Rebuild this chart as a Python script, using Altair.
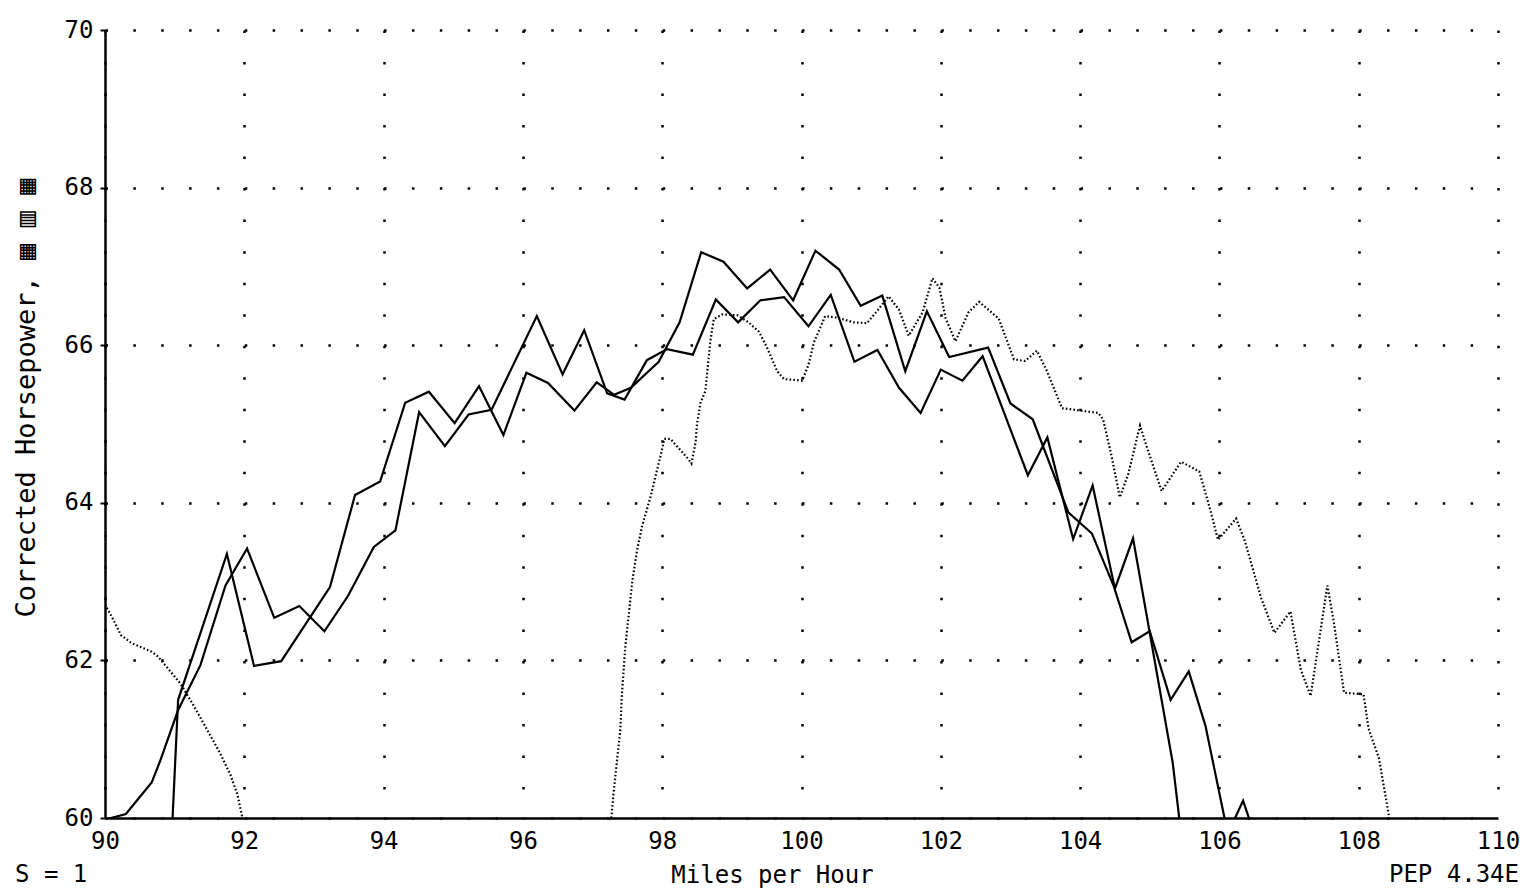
import altair as alt
import pandas as pd

# ---- data ----
run1_mph = [90.97, 91.05, 91.75, 92.14, 92.53, 93.23, 93.59, 93.95, 94.31, 94.65,
            95.02, 95.37, 95.72, 96.05, 96.36, 96.74, 97.06, 97.31, 97.55, 97.95,
            98.25, 98.56, 98.88, 99.22, 99.55, 99.88, 100.2, 100.54, 100.85, 101.16,
            101.49, 101.8, 102.12, 102.68, 103.0, 103.32, 103.83, 104.17, 104.48, 104.74,
            105.0, 105.3, 105.56, 105.8, 106.12, 106.34, 106.5]
run1_hp = [60.0, 61.5, 63.35, 61.93, 61.99, 62.93, 64.1, 64.27, 65.27, 65.41,
           65.01, 65.48, 64.86, 65.65, 65.52, 65.17, 65.53, 65.37, 65.46, 65.79,
           66.29, 67.18, 67.06, 66.72, 66.96, 66.57, 67.2, 66.96, 66.5, 66.63,
           65.67, 66.43, 65.85, 65.97, 65.26, 65.06, 63.88, 63.61, 62.95, 62.23,
           62.37, 61.5, 61.86, 61.17, 59.8, 60.22, 59.8]

run2_mph = [90.0, 90.3, 90.67, 90.79, 91.05, 91.37, 91.73, 92.04, 92.43, 92.79,
            93.15, 93.49, 93.86, 94.17, 94.51, 94.88, 95.22, 95.55, 96.2, 96.57,
            96.88, 97.21, 97.46, 97.78, 98.07, 98.44, 98.77, 99.09, 99.41, 99.75,
            100.1, 100.42, 100.76, 101.09, 101.4, 101.71, 102.0, 102.31, 102.6, 103.25,
            103.53, 103.9, 104.18, 104.5, 104.76, 105.33, 105.45]
run2_hp = [59.98, 60.05, 60.45, 60.72, 61.37, 61.94, 62.95, 63.42, 62.54, 62.69,
           62.37, 62.82, 63.44, 63.65, 65.15, 64.72, 65.12, 65.18, 66.37, 65.63,
           66.19, 65.39, 65.31, 65.81, 65.95, 65.88, 66.58, 66.29, 66.57, 66.61,
           66.24, 66.64, 65.79, 65.94, 65.46, 65.14, 65.69, 65.55, 65.86, 64.35,
           64.83, 63.54, 64.22, 62.91, 63.55, 60.7, 59.8]

dot_low_mph = [90.0, 90.1, 90.23, 90.38, 90.67, 90.76, 91.08, 91.27, 91.46, 91.66,
               91.8, 91.9, 91.97]
dot_low_hp = [62.71, 62.55, 62.32, 62.22, 62.11, 62.05, 61.71, 61.43, 61.13, 60.81,
              60.55, 60.3, 60.02]

dot_high_mph = [97.27, 97.3, 97.35, 97.4, 97.42, 97.47, 97.52, 97.57, 97.64, 97.71,
                97.84, 97.91, 97.98, 98.03, 98.12, 98.24, 98.38, 98.42, 98.48, 98.5,
                98.55, 98.62, 98.69, 98.74, 98.86, 99.08, 99.24, 99.39, 99.51, 99.65,
                99.75, 100.01, 100.1, 100.18, 100.34, 100.51, 100.75, 100.94, 101.1, 101.25,
                101.4, 101.54, 101.74, 101.88, 101.98, 102.07, 102.21, 102.4, 102.55, 102.83,
                103.05, 103.21, 103.38, 103.52, 103.74, 103.93, 104.26, 104.33, 104.45, 104.57,
                104.69, 104.86, 104.95, 105.17, 105.45, 105.71, 105.86, 105.98, 106.24, 106.36,
                106.6, 106.79, 107.02, 107.17, 107.31, 107.48, 107.55, 107.64, 107.79, 108.07,
                108.14, 108.29, 108.44]
dot_high_hp = [60.0, 60.3, 60.72, 61.13, 61.55, 62.17, 62.58, 63.0, 63.4, 63.7,
               64.1, 64.36, 64.61, 64.81, 64.81, 64.69, 64.55, 64.5, 64.77, 65.0,
               65.27, 65.42, 66.04, 66.33, 66.39, 66.38, 66.29, 66.17, 65.96, 65.67,
               65.57, 65.55, 65.75, 66.04, 66.37, 66.35, 66.29, 66.28, 66.45, 66.62,
               66.45, 66.12, 66.42, 66.85, 66.73, 66.34, 66.05, 66.42, 66.55, 66.34,
               65.82, 65.8, 65.93, 65.68, 65.2, 65.18, 65.14, 65.06, 64.6, 64.07,
               64.36, 64.98, 64.73, 64.15, 64.52, 64.4, 63.94, 63.53, 63.8, 63.53,
               62.79, 62.35, 62.62, 61.88, 61.55, 62.54, 62.95, 62.5, 61.59, 61.57,
               61.14, 60.76, 60.0]

x_ticks = [90, 92, 94, 96, 98, 100, 102, 104, 106, 108, 110]
y_ticks = [60, 62, 64, 66, 68, 70]

FONT = "DejaVu Sans Mono"

solid = pd.concat([
    pd.DataFrame({"run": "1", "mph": run1_mph, "hp": run1_hp}),
    pd.DataFrame({"run": "2", "mph": run2_mph, "hp": run2_hp}),
])
dotted = pd.concat([
    pd.DataFrame({"seg": "a", "mph": dot_low_mph, "hp": dot_low_hp}),
    pd.DataFrame({"seg": "b", "mph": dot_high_mph, "hp": dot_high_hp}),
])

xs = alt.Scale(domain=[90, 110], nice=False, zero=False)
ys = alt.Scale(domain=[60, 70], nice=False, zero=False)

x_axis = alt.Axis(
    values=x_ticks, format="d", title="Miles per Hour", grid=True,
    gridDash=[2.5, 29.02], gridColor="black", gridWidth=2.5, gridOpacity=1,
    ticks=False, domainColor="black", domainWidth=2.5,
    labelFont=FONT, labelFontSize=24, labelColor="black", labelPadding=11,
    labelFlush=False,
    titleFont=FONT, titleFontSize=24, titleFontWeight="normal", titleColor="black",
    titleX=667, titleY=57, titleAlign="center", titleBaseline="middle",
)
y_axis = alt.Axis(
    values=y_ticks, format="d", title="Corrected Horsepower, \u25a6 \u25a5 \u25a6", grid=True,
    gridDash=[2.5, 25.36], gridColor="black", gridWidth=2.5, gridOpacity=1,
    ticks=True, tickSize=5, tickColor="black", tickWidth=2,
    domainColor="black", domainWidth=2.5,
    labelFont=FONT, labelFontSize=24, labelColor="black", labelPadding=7,
    labelFlush=False,
    titleFont=FONT, titleFontSize=27, titleFontWeight="normal", titleColor="black",
    titleAngle=270, titleAlign="left", titleBaseline="middle",
    titleX=-79, titleY=587,
)

solid_layer = alt.Chart(solid).mark_line(
    color="black", strokeWidth=2.2, clip=True
).encode(
    x=alt.X("mph:Q", scale=xs, axis=x_axis),
    y=alt.Y("hp:Q", scale=ys, axis=y_axis),
    detail="run:N",
)

dotted_layer = alt.Chart(dotted).mark_line(
    color="black", strokeWidth=2.2, strokeDash=[1.6, 2.2], clip=True
).encode(
    x=alt.X("mph:Q", scale=xs),
    y=alt.Y("hp:Q", scale=ys),
    detail="seg:N",
)

left_note = alt.Chart(pd.DataFrame({"t": ["S = 1"]})).mark_text(
    font=FONT, fontSize=24, color="black", align="left", baseline="middle"
).encode(text="t:N", x=alt.value(-90), y=alt.value(845))

right_note = alt.Chart(pd.DataFrame({"t": ["PEP 4.34E"]})).mark_text(
    font=FONT, fontSize=24, color="black", align="right", baseline="middle"
).encode(text="t:N", x=alt.value(1414), y=alt.value(845))

chart = alt.layer(solid_layer, dotted_layer, left_note, right_note).properties(
    width=1393, height=788,
    autosize=alt.AutoSizeParams(type="none"),
    padding={"left": 97, "top": 22, "right": 25, "bottom": 72},
    background="white",
).configure_view(stroke=None)

chart.save("out.html", embed_options={"renderer": "svg", "actions": False})
